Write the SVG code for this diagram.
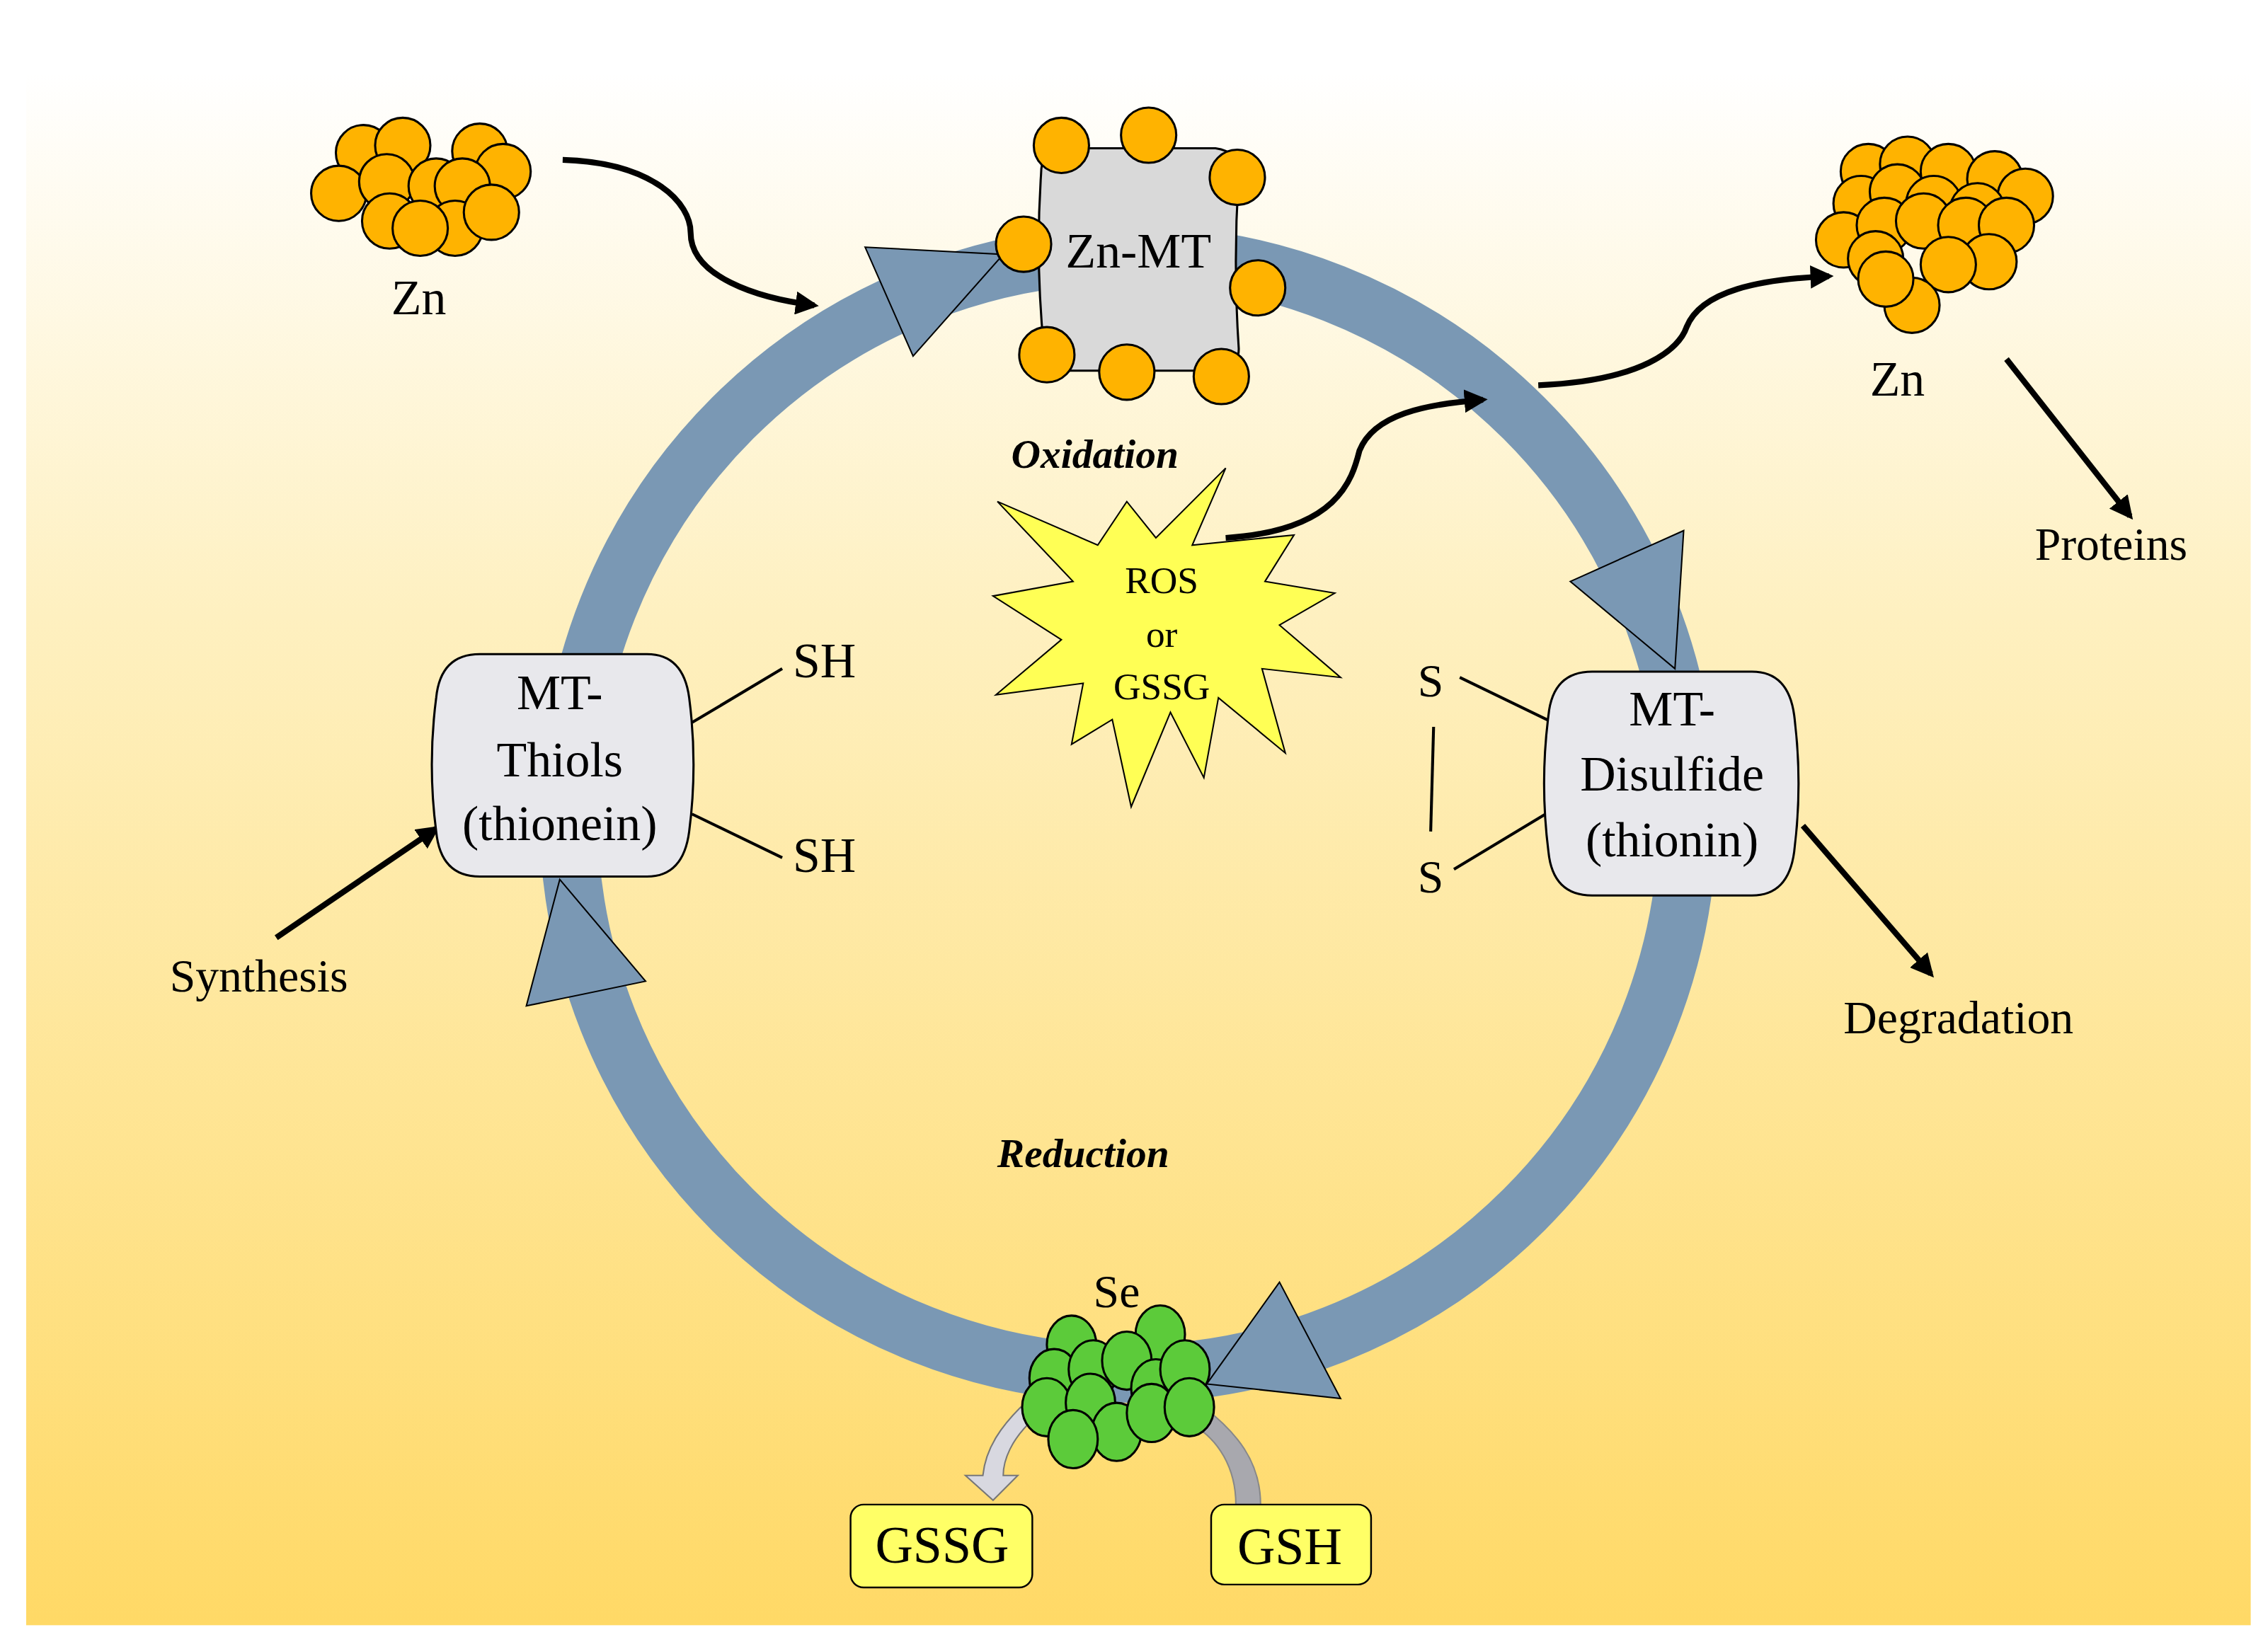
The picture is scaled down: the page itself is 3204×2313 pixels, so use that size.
<svg xmlns="http://www.w3.org/2000/svg" width="3204" height="2313" viewBox="0 0 3204 2313">
<defs>
<linearGradient id="bg" x1="0" y1="0" x2="0" y2="1"><stop offset="0" stop-color="#FFFFFF"/><stop offset="0.35" stop-color="#FEF0C0"/><stop offset="1" stop-color="#FFD966"/></linearGradient>
<marker id="ah" viewBox="0 0 10 10" refX="8" refY="5" markerWidth="4" markerHeight="4" orient="auto"><path d="M0,0 L10,5 L0,10 z" fill="#000"/></marker>
<style>
.t{font-family:"Liberation Serif","DejaVu Serif",serif;fill:#000;text-anchor:middle}
.zn{fill:#FFB300;stroke:#000;stroke-width:1.5}
.se{fill:#5CCB3A;stroke:#000;stroke-width:1.5}
.tri{fill:#7A98B4;stroke:#000;stroke-width:1}
.ar{fill:none;stroke:#000;stroke-width:4;marker-end:url(#ah)}
.ln{stroke:#000;stroke-width:2}
.box{fill:#E8E8EC;stroke:#000;stroke-width:1.5}
</style>
</defs>
<rect width="3204" height="2313" fill="#fff"/>
<g transform="scale(2.054)">
<rect x="18" y="50" width="1530" height="1068" fill="url(#bg)"/>
<g id="ring"><circle cx="776" cy="560" r="385" fill="none" stroke="#7A98B4" stroke-width="40"/>
<polygon class="tri" points="595,170 690,175 628,245"/>
<polygon class="tri" points="1080,400 1158,365 1152,460"/>
<polygon class="tri" points="362,692 444,675 385,605"/>
<polygon class="tri" points="830,952 880,882 922,962"/></g>
<g id="connectors">
<path class="ar" d="M387,110 C450,112 475,140 475,160 C475,190 520,205 560,210"/>
<path class="ar" d="M843,370 C920,365 930,330 935,310 C945,285 980,278 1020,275"/>
<path class="ar" d="M1058,265 C1130,262 1155,240 1160,225 C1170,200 1210,192 1258,190"/>
<path class="ar" d="M1380,247 L1465,355"/>
<path class="ar" d="M190,645 L300,570"/>
<path class="ar" d="M1240,568 L1328,670"/>
<line class="ln" x1="476" y1="497" x2="538" y2="460"/>
<line class="ln" x1="476" y1="560" x2="538" y2="590"/>
<line class="ln" x1="986" y1="500" x2="984" y2="572"/>
<line class="ln" x1="1004" y1="466" x2="1068" y2="497"/>
<line class="ln" x1="1000" y1="598" x2="1063" y2="560"/>
<path d="M712,975 C695,990 690,1005 690,1015 L700,1015 L683,1032 L664,1015 L676,1015 C678,995 690,980 702,968 z" fill="#D8D8E0" stroke="#777" stroke-width="1"/>
<path d="M828,968 C850,985 867,1005 867,1035 L850,1035 C850,1010 838,990 820,980 z" fill="#A8A8AE" stroke="#888" stroke-width="1"/>
</g>
<g id="zn-left">
<circle class="zn" cx="250" cy="105" r="19"/><circle class="zn" cx="277" cy="100" r="19"/><circle class="zn" cx="330" cy="104" r="19"/>
<circle class="zn" cx="346" cy="118" r="19"/><circle class="zn" cx="233" cy="133" r="19"/><circle class="zn" cx="266" cy="125" r="19"/>
<circle class="zn" cx="300" cy="128" r="19"/><circle class="zn" cx="318" cy="128" r="19"/><circle class="zn" cx="268" cy="152" r="19"/>
<circle class="zn" cx="313" cy="157" r="19"/><circle class="zn" cx="338" cy="146" r="19"/><circle class="zn" cx="289" cy="157" r="19"/>
<text class="t" x="288" y="216" font-size="34">Zn</text></g>
<g id="zn-mt">
<path d="M728,102 L836,102 Q852,104 852,120 Q848,180 852,240 Q852,254 836,255 L732,255 Q718,254 718,240 Q712,180 716,120 Q716,104 728,102 z" fill="#D9D9D9" stroke="#000" stroke-width="1.5"/>
<circle class="zn" cx="730" cy="100" r="19"/><circle class="zn" cx="790" cy="93" r="19"/><circle class="zn" cx="851" cy="122" r="19"/>
<circle class="zn" cx="704" cy="168" r="19"/><circle class="zn" cx="865" cy="198" r="19"/><circle class="zn" cx="720" cy="244" r="19"/>
<circle class="zn" cx="775" cy="256" r="19"/><circle class="zn" cx="840" cy="259" r="19"/>
<text class="t" x="783" y="184" font-size="34">Zn-MT</text></g>
<g id="zn-right">
<circle class="zn" cx="1285" cy="118" r="19"/><circle class="zn" cx="1312" cy="113" r="19"/><circle class="zn" cx="1340" cy="118" r="19"/>
<circle class="zn" cx="1372" cy="123" r="19"/><circle class="zn" cx="1393" cy="135" r="19"/><circle class="zn" cx="1280" cy="140" r="19"/>
<circle class="zn" cx="1305" cy="132" r="19"/><circle class="zn" cx="1330" cy="140" r="19"/><circle class="zn" cx="1360" cy="145" r="19"/>
<circle class="zn" cx="1268" cy="165" r="19"/><circle class="zn" cx="1296" cy="155" r="19"/><circle class="zn" cx="1323" cy="152" r="19"/>
<circle class="zn" cx="1352" cy="155" r="19"/><circle class="zn" cx="1380" cy="155" r="19"/><circle class="zn" cx="1290" cy="178" r="19"/>
<circle class="zn" cx="1368" cy="180" r="19"/><circle class="zn" cx="1340" cy="182" r="19"/><circle class="zn" cx="1315" cy="210" r="19"/>
<circle class="zn" cx="1297" cy="192" r="19"/>
<text class="t" x="1305" y="272" font-size="34">Zn</text></g>
<g id="proteins"><text class="t" x="1452" y="385" font-size="32">Proteins</text></g>
<g id="labels"><text class="t" x="753" y="322" font-size="28" font-weight="bold" font-style="italic">Oxidation</text>
<text class="t" x="745" y="803" font-size="28" font-weight="bold" font-style="italic">Reduction</text></g>
<g id="ros">
<polygon points="843,322 820,375 890,368 870,400 918,408 880,430 922,466 868,460 884,518 838,480 828,535 805,490 778,555 765,495 737,512 745,470 685,478 730,440 683,410 738,400 686,345 755,375 775,345 795,370" fill="#FFFF55" stroke="#000" stroke-width="1"/>
<text class="t" x="799" y="408" font-size="26">ROS</text><text class="t" x="799" y="445" font-size="26">or</text><text class="t" x="799" y="481" font-size="26">GSSG</text></g>
<g id="mt-thiols">
<path class="box" d="M330,450 L445,450 Q470,450 474,480 Q480,526 474,572 Q470,603 445,603 L330,603 Q303,603 300,572 Q294,526 300,480 Q303,450 330,450 z"/>
<text class="t" x="385" y="488" font-size="34">MT-</text><text class="t" x="385" y="534" font-size="34">Thiols</text><text class="t" x="385" y="578" font-size="34">(thionein)</text>
<text class="t" x="567" y="466" font-size="34">SH</text><text class="t" x="567" y="600" font-size="34">SH</text></g>
<g id="synthesis"><text class="t" x="178" y="682" font-size="32">Synthesis</text></g>
<g id="mt-disulfide">
<path class="box" d="M1095,462 L1205,462 Q1230,462 1234,492 Q1240,539 1234,586 Q1230,616 1205,616 L1095,616 Q1068,616 1065,586 Q1059,539 1065,492 Q1068,462 1095,462 z"/>
<text class="t" x="1150" y="499" font-size="34">MT-</text><text class="t" x="1150" y="544" font-size="34">Disulfide</text><text class="t" x="1150" y="589" font-size="34">(thionin)</text>
<text class="t" x="984" y="479" font-size="32">S</text><text class="t" x="984" y="614" font-size="32">S</text></g>
<g id="degradation"><text class="t" x="1347" y="711" font-size="32">Degradation</text></g>
<g id="se">
<text class="t" x="768" y="899" font-size="32">Se</text>
<ellipse class="se" cx="737" cy="925" rx="17" ry="20"/><ellipse class="se" cx="798" cy="918" rx="17" ry="20"/>
<ellipse class="se" cx="725" cy="948" rx="17" ry="20"/><ellipse class="se" cx="752" cy="942" rx="17" ry="20"/>
<ellipse class="se" cx="775" cy="936" rx="17" ry="20"/><ellipse class="se" cx="795" cy="955" rx="17" ry="20"/>
<ellipse class="se" cx="815" cy="942" rx="17" ry="20"/><ellipse class="se" cx="720" cy="968" rx="17" ry="20"/>
<ellipse class="se" cx="750" cy="965" rx="17" ry="20"/><ellipse class="se" cx="768" cy="985" rx="17" ry="20"/>
<ellipse class="se" cx="792" cy="972" rx="17" ry="20"/><ellipse class="se" cx="818" cy="968" rx="17" ry="20"/>
<ellipse class="se" cx="738" cy="990" rx="17" ry="20"/></g>
<g id="gssg"><rect x="585" y="1035" width="125" height="57" rx="9" fill="#FFFF66" stroke="#000" stroke-width="1.2"/><text class="t" x="648" y="1075" font-size="36">GSSG</text></g>
<g id="gsh"><rect x="833" y="1035" width="110" height="55" rx="9" fill="#FFFF66" stroke="#000" stroke-width="1.2"/><text class="t" x="887" y="1076" font-size="36">GSH</text></g>
</g>
</svg>
